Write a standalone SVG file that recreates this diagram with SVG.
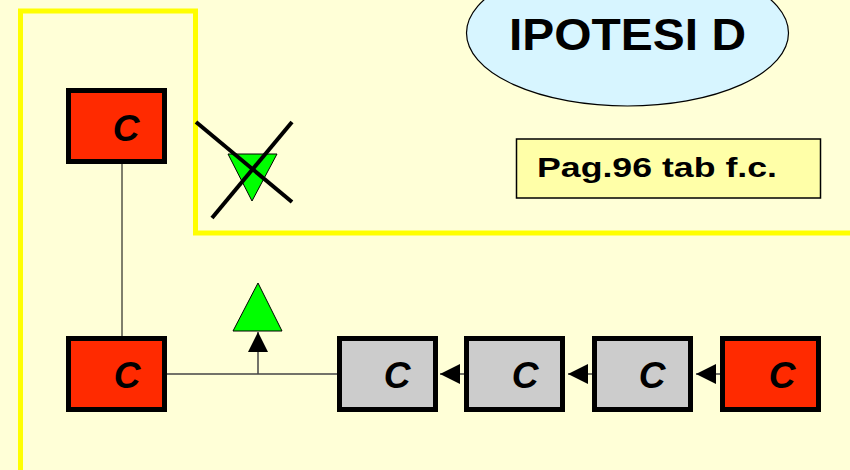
<svg xmlns="http://www.w3.org/2000/svg" width="850" height="470" viewBox="0 0 850 470">
<defs>
<style>
.box{stroke:#000;stroke-width:5}
.red{fill:#FF2A00}
.gray{fill:#CCCCCC}
.c{font-family:"Liberation Sans",Arial,sans-serif;font-weight:bold;font-style:italic;font-size:37px;text-anchor:middle;fill:#000}
.conn{stroke:#444;stroke-width:1.5;fill:none}
</style>
<marker id="ah" viewBox="0 0 20 20" refX="20" refY="10" markerWidth="20" markerHeight="20" markerUnits="userSpaceOnUse" orient="auto">
<path d="M0,0 L20,10 L0,20 Z" fill="#000"/>
</marker>
</defs>
<rect width="850" height="470" fill="#FFFFD7"/>
<path d="M20.5,470 V11 H195.5 V233 H850" fill="none" stroke="#FFFF00" stroke-width="5"/>
<g id="title">
<ellipse cx="627.5" cy="33" rx="161" ry="73" fill="#D7F5FF" stroke="#000" stroke-width="1.2"/>
<text x="627.5" y="50" font-family="'Liberation Sans',Arial,sans-serif" font-weight="bold" font-size="44" text-anchor="middle" textLength="237" lengthAdjust="spacingAndGlyphs">IPOTESI D</text>
</g>
<g id="ref">
<rect x="516.5" y="139" width="304" height="59" fill="#FFFFA8" stroke="#000" stroke-width="1.5"/>
<text x="537" y="177" font-family="'Liberation Sans',Arial,sans-serif" font-weight="bold" font-size="28" textLength="240" lengthAdjust="spacingAndGlyphs">Pag.96 tab f.c.</text>
</g>
<g id="connectors">
<line x1="122" y1="164" x2="122" y2="343" stroke="#000" stroke-width="1"/>
<line class="conn" x1="167" y1="374" x2="337" y2="374"/>
<line class="conn" x1="258" y1="374" x2="258" y2="332" marker-end="url(#ah)"/>
<line class="conn" x1="464" y1="374" x2="440" y2="374" marker-end="url(#ah)"/>
<line class="conn" x1="592" y1="374" x2="568" y2="374" marker-end="url(#ah)"/>
<line class="conn" x1="720" y1="374" x2="696" y2="374" marker-end="url(#ah)"/>
</g>
<g id="blocked">
<polygon points="228,154 277,154 252,201" fill="#00FF00" stroke="#000" stroke-width="1"/>
<line x1="196" y1="122" x2="292" y2="202" stroke="#000" stroke-width="4"/>
<line x1="212" y1="218" x2="292" y2="122" stroke="#000" stroke-width="4"/>
</g>
<g id="open">
<polygon points="258,283 233,331 282,331" fill="#00FF00" stroke="#000" stroke-width="1"/>
</g>
<g id="c-top">
<rect class="box red" x="68.5" y="90.5" width="96" height="71"/>
<text class="c" x="126" y="141">C</text>
</g>
<g id="c-bottom">
<rect class="box red" x="68.5" y="338.5" width="96" height="71"/>
<text class="c" x="127" y="388">C</text>
</g>
<g id="c1">
<rect class="box gray" x="339.5" y="338.5" width="96" height="71"/>
<text class="c" x="397" y="388">C</text>
</g>
<g id="c2">
<rect class="box gray" x="466.5" y="338.5" width="96" height="71"/>
<text class="c" x="525" y="388">C</text>
</g>
<g id="c3">
<rect class="box gray" x="594.5" y="338.5" width="96" height="71"/>
<text class="c" x="652" y="388">C</text>
</g>
<g id="c4">
<rect class="box red" x="722.5" y="338.5" width="96" height="71"/>
<text class="c" x="782" y="388">C</text>
</g>
</svg>
